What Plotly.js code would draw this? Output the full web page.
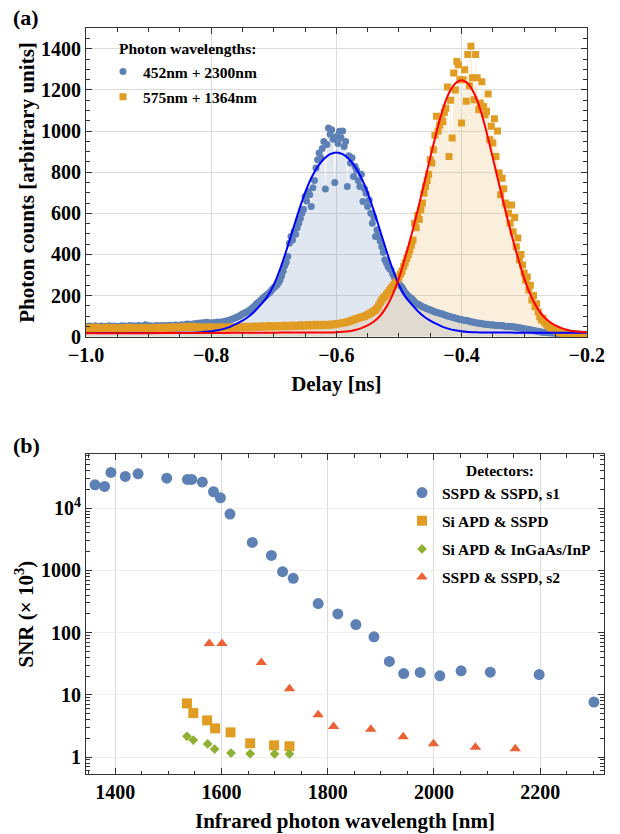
<!DOCTYPE html>
<html><head><meta charset="utf-8">
<script src="https://cdn.plot.ly/plotly-3.0.1.min.js"></script>
<style>html,body{margin:0;padding:0;background:#fff}#chart{width:620px;height:834px}</style>
</head><body><div id="chart"></div>
<script>
// ---------- Panel (a): photon counts vs delay ----------
const delayStart = -1.0;
const delayStep = 0.0025;
const blueCounts = [
50,47,52,49,46,51,53,48,50,47, 52,49,46,51,48,53,50,47,52,49, 51,48,50,53,49,52,47,51,54,50,
53,49,52,50,55,51,49,53,58,54, 50,53,51,49,52,55,51,53,50,54, 52,55,51,54,56,53,52,57,54,56,
55,58,54,57,60,62,58,61,59,63, 61,65,62,67,64,68,66,70,65,68, 67,65,69,66,71,68,70,73,71,75,
78,76,81,84,87,90,94,97,101,105, 110,114,118,121,126,131,138,145,152,160, 166,172,180,188,193,200,206,212,220,230,
238,244,252,262,276,295,318,345,362,390, 455,487,470,512,498,530,552,575,601,620, 682,660,706,690,633,725,760,820,861,893,
870,915,950,719,935,1015,985,1007,960,750, 974,940,999,968,1000,925,950,731,880,845, 870,779,828,810,760,731,790,658,720,698,
633,665,600,552,580,487,520,490,465,438, 410,374,360,341,330,325,305,290,282,276, 260,248,240,227,215,205,198,190,187,178,
170,163,158,155,150,146,143,140,136,133, 130,128,124,121,118,116,114,112,110,107, 104,101,99,97,95,93,90,88,86,84,
82,81,79,80,77,75,73,71,70,68, 67,65,66,63,62,60,61,59,58,57, 58,56,55,56,54,53,55,52,51,50,
51,49,50,48,47,46,44,43,42,40, 39,38,36,35,34,32,30,29,27,26, 24,23,22,21,20,19,19,18,18,17,
17,16,16,16,15,15,15,14,14,14, 14,13,13,13,13,12,12,12,12,12,12];
const orangeCounts = [
42,38,45,40,36,43,47,41,38,44, 40,35,42,46,39,43,37,41,45,40, 36,42,39,44,41,37,43,40,46,39,
42,38,44,41,36,43,40,45,39,42, 38,44,41,37,43,40,46,42,39,44, 41,47,43,40,45,42,48,44,41,46,
43,48,45,50,46,49,44,47,51,46, 43,45,49,42,47,44,41,46,43,48, 45,42,47,44,40,46,43,48,45,41,
46,43,49,45,42,47,44,50,46,43, 48,45,51,47,44,49,46,52,48,45, 50,47,53,49,46,51,48,54,50,47,
52,49,55,51,48,53,50,56,52,49, 54,51,57,53,50,55,52,58,54,51, 56,53,59,55,52,57,54,60,56,53,
58,55,61,57,54,59,56,62,58,60, 62,64,63,66,68,67,70,72,74,76, 79,82,85,88,90,93,95,97,100,103,
107,110,115,120,125,130,140,150,165,179, 188,195,205,215,225,236,245,255,265,276, 292,305,320,341,360,380,400,422,445,470,
552,530,590,570,617,650,698,730,760,790, 861,845,909,980,1072,1000,1030,1060,1047,1090, 1111,1214,877,1150,966,1283,1200,1339,1323,1250,
1039,1250,1299,1145,1372,1220,1413,1260,1153,1372, 1259,1104,1137,1240,1120,1080,1096,1180,958,1023, 942,1060,877,1000,796,690,771,720,650,641,
601,552,640,511,580,438,480,374,400,349, 310,276,290,227,250,179,200,146,160,120, 97,81,90,70,62,56,49,42,38,34,
30,27,24,21,18,15,12,10,8,7, 6,5,5,4,4,3,3,3,2,2,2];
const fitDelay = [-1.0,-0.9,-0.85,-0.82,
-0.80,-0.79,-0.78,-0.77,-0.76,-0.75,-0.74,-0.73,-0.72,-0.71,-0.70,-0.69,-0.68,-0.67,-0.66,-0.65,-0.64,-0.63,-0.62,-0.61,
-0.60,-0.59,-0.58,-0.57,-0.56,-0.55,-0.54,-0.53,-0.52,-0.51,-0.50,-0.49,-0.48,-0.47,-0.46,-0.45,-0.44,-0.43,-0.42,-0.41,
-0.40,-0.39,-0.38,-0.37,-0.36,-0.35,-0.34,-0.33,-0.32,-0.31,-0.30,-0.29,-0.28,-0.27,-0.26,-0.25,-0.24,-0.23,-0.22,-0.21,-0.20];
const blueFit = [18,18,19,21,
26,31,38,48,62,78,98,125,158,196,252,328,418,515,612,700,772,826,864,888,
896,888,864,826,772,700,612,515,418,328,252,196,158,125,98,78,62,48,38,31,
26,23,22,21,21,20,20,20,20,19,19,19,19,19,19,19,19,19,19,19,19];
const redFit = [17,17,18,18,
18,18,18,19,19,19,19,19,19,19,19,20,20,20,20,20,20,21,21,21,
22,24,27,33,42,55,74,102,145,205,285,385,495,615,742,870,995,1105,1185,1232,
1247,1232,1185,1105,995,870,742,615,495,385,285,205,145,102,74,55,42,33,27,24,22];
const seriesNamesA = ['452nm + 2300nm', '575nm + 1364nm'];

// ---------- Panel (b): SNR vs infrared wavelength ----------
const s1Wavelength = [1362,1380,1392,1419,1443,1497,1536,1544,1564,1585,1598,1616,1658,1694,1715,1735,1782,1819,1853,1887,1916,1943,1974,2011,2051,2106,2198,2301];
const s1SNR = [23800,22400,37600,32400,35800,30400,29000,29000,26300,18400,14700,8040,2820,1740,955,746,293,200,135,85.5,34.4,22.0,22.9,20.2,24.3,23.1,21.2,7.64];
const siApdSspdWavelength = [1535,1547,1573,1588,1617,1654,1699,1728];
const siApdSspdSNR = [7.28,5.09,3.88,2.89,2.49,1.66,1.54,1.49];
const siApdIngaasWavelength = [1535,1547,1574,1587,1618,1654,1700,1728];
const siApdIngaasSNR = [2.15,1.87,1.62,1.34,1.16,1.13,1.12,1.12];
const s2Wavelength = [1577,1601,1675,1728,1782,1811,1881,1942,1999,2078,2153];
const s2SNR = [66.8,66.8,33,12.5,4.77,3.11,2.79,2.12,1.64,1.43,1.36];
const detectorNames = ['SSPD &amp; SSPD, s1','Si APD &amp; SSPD','Si APD &amp; InGaAs/InP','SSPD &amp; SSPD, s2'];
const snrTickVals = [1,10,100,1000,10000];
const snrTickText = ['1','10','100','1000','10<sup>4</sup>'];

// ---------- build ----------
const delay = blueCounts.map((_, i) => +(delayStart + i * delayStep).toFixed(4));
const F = '"Liberation Serif", "Times New Roman", serif';
const C = {blue:'#5E81B5', orange:'#E19C24', green:'#8FB032', red:'#EB6235'};

const traces = [
  {x:delay, y:blueCounts, type:'scatter', mode:'lines', line:{width:0}, fill:'tozeroy',
   fillcolor:'rgba(94,129,181,0.19)', showlegend:false, hoverinfo:'skip', xaxis:'x', yaxis:'y'},
  {x:delay, y:orangeCounts, type:'scatter', mode:'lines', line:{width:0}, fill:'tozeroy',
   fillcolor:'rgba(225,156,36,0.16)', showlegend:false, hoverinfo:'skip', xaxis:'x', yaxis:'y'},
  {x:delay, y:blueCounts, type:'scatter', mode:'markers', name:seriesNamesA[0], legend:'legend', legendgroup:'a1',
   marker:{symbol:'circle', size:7, color:C.blue}, xaxis:'x', yaxis:'y'},
  {x:delay, y:orangeCounts, type:'scatter', mode:'markers', name:seriesNamesA[1], legend:'legend', legendgroup:'a2',
   marker:{symbol:'square', size:7, color:C.orange}, xaxis:'x', yaxis:'y'},
  {x:fitDelay, y:blueFit, type:'scatter', mode:'lines', line:{color:'#0000FF', width:2, shape:'spline', smoothing:0.6},
   showlegend:false, xaxis:'x', yaxis:'y'},
  {x:fitDelay, y:redFit, type:'scatter', mode:'lines', line:{color:'#FF0000', width:2, shape:'spline', smoothing:0.6},
   showlegend:false, xaxis:'x', yaxis:'y'},

  {x:s1Wavelength, y:s1SNR, type:'scatter', mode:'markers', name:detectorNames[0], legend:'legend2', legendgroup:'b1',
   marker:{symbol:'circle', size:11, color:C.blue}, xaxis:'x2', yaxis:'y2'},
  {x:siApdSspdWavelength, y:siApdSspdSNR, type:'scatter', mode:'markers', name:detectorNames[1], legend:'legend2', legendgroup:'b2',
   marker:{symbol:'square', size:10, color:C.orange}, xaxis:'x2', yaxis:'y2'},
  {x:siApdIngaasWavelength, y:siApdIngaasSNR, type:'scatter', mode:'markers', name:detectorNames[2], legend:'legend2', legendgroup:'b3',
   marker:{symbol:'diamond', size:7.5, color:C.green}, xaxis:'x2', yaxis:'y2'},
  {x:s2Wavelength, y:s2SNR, type:'scatter', mode:'markers', name:detectorNames[3], legend:'legend2', legendgroup:'b4',
   marker:{symbol:'triangle-up', size:10, color:C.red}, xaxis:'x2', yaxis:'y2'}
];

const frame = {showline:true, linecolor:'#333', linewidth:1, mirror:'allticks', ticks:'inside', ticklen:6,
  tickcolor:'#333', zeroline:false, automargin:false, tickfont:{family:F, size:20, color:'#000', weight:'bold'}};
const titleFont = {family:F, size:21, color:'#000', weight:'bold'};

const layout = {
  width:620, height:834, margin:{l:0, r:0, t:0, b:0},
  paper_bgcolor:'#fff', plot_bgcolor:'rgba(0,0,0,0)',
  font:{family:F, color:'#000', size:15.5, weight:'bold'},
  xaxis:Object.assign({}, frame, {domain:[0.13871,0.94629], anchor:'y', range:[-1,-0.2], tick0:-1, dtick:0.2,
    tickformat:'.1f', gridcolor:'#dcdcdc',
    minor:{dtick:0.05, tick0:-1, ticks:'inside', ticklen:3.5, tickcolor:'#333', showgrid:false},
    title:{text:'Delay [ns]', font:titleFont, standoff:11}}),
  yaxis:Object.assign({}, frame, {domain:[0.59628,0.96607], anchor:'x', range:[0,1500], tick0:0, dtick:200,
    gridcolor:'#dcdcdc',
    minor:{dtick:50, tick0:0, ticks:'inside', ticklen:3.5, tickcolor:'#333', showgrid:false},
    title:{text:'Photon counts [arbitrary units]', font:titleFont, standoff:0}}),
  xaxis2:Object.assign({}, frame, {domain:[0.13871,0.97419], anchor:'y2', range:[1345,2320], tick0:1400, dtick:200,
    gridcolor:'#dcdcdc',
    minor:{dtick:50, tick0:1400, ticks:'inside', ticklen:3.5, tickcolor:'#333', showgrid:false},
    title:{text:'Infrared photon wavelength [nm]', font:titleFont, standoff:11}}),
  yaxis2:Object.assign({}, frame, {domain:[0.07194,0.45528], anchor:'x2', type:'log', range:[-0.273,4.867],
    tickmode:'array', tickvals:snrTickVals, ticktext:snrTickText, gridcolor:'#efefef',
    minor:{dtick:'D1', ticks:'inside', ticklen:3.5, tickcolor:'#333', showgrid:false},
    title:{text:'SNR (× 10<sup>3</sup>)', font:titleFont, standoff:1}}),
  legend:{x:103/620, y:1-55/834, xanchor:'left', yanchor:'top', bgcolor:'rgba(0,0,0,0)', borderwidth:0,
    traceorder:'grouped', tracegroupgap:2, itemwidth:30, font:{family:F, size:15.5, color:'#000', weight:'bold'}},
  legend2:{x:402/620, y:1-476/834, xanchor:'left', yanchor:'top', bgcolor:'rgba(0,0,0,0)', borderwidth:0,
    traceorder:'grouped', tracegroupgap:5, itemwidth:30, font:{family:F, size:15.5, color:'#000', weight:'bold'}},
  annotations:[
    {text:'(a)', xref:'paper', yref:'paper', x:11/620, y:1-18/834, xanchor:'left', yanchor:'middle', showarrow:false,
     font:{family:F, size:22, color:'#000', weight:'bold'}},
    {text:'(b)', xref:'paper', yref:'paper', x:11/620, y:1-445/834, xanchor:'left', yanchor:'middle', showarrow:false,
     font:{family:F, size:22, color:'#000', weight:'bold'}},
    {text:'Photon wavelengths:', xref:'paper', yref:'paper', x:117/620, y:1-49/834, xanchor:'left', yanchor:'middle', showarrow:false,
     font:{family:F, size:15.5, color:'#000', weight:'bold'}},
    {text:'Detectors:', xref:'paper', yref:'paper', x:500/620, y:1-470/834, xanchor:'center', yanchor:'middle', showarrow:false,
     font:{family:F, size:15.5, color:'#000', weight:'bold'}}
  ]
};

Plotly.newPlot('chart', traces, layout, {staticPlot:true, displayModeBar:false});
</script>
</body></html>
